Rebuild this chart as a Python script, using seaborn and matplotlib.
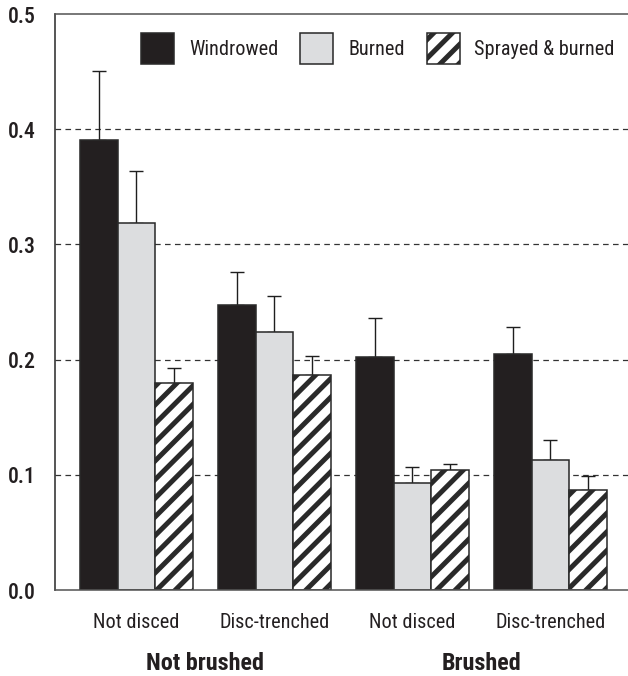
import matplotlib
matplotlib.use("Agg")
import matplotlib.pyplot as plt
from matplotlib.patches import Patch
import seaborn as sns
import pandas as pd
import numpy as np

# ---- data -------------------------------------------------------------
groups = ["Not brushed", "Not brushed", "Brushed", "Brushed"]
site_prep = ["Not disced", "Disc-trenched", "Not disced", "Disc-trenched"]
treatments = ["Windrowed", "Burned", "Sprayed & burned"]

windrowed = [0.391, 0.247, 0.202, 0.205]
burned = [0.319, 0.224, 0.093, 0.113]
sprayed_burned = [0.180, 0.187, 0.104, 0.087]

windrowed_se = [0.060, 0.029, 0.034, 0.023]
burned_se = [0.045, 0.031, 0.014, 0.017]
sprayed_burned_se = [0.013, 0.016, 0.005, 0.012]

group_labels = ["Not brushed", "Brushed"]

# ---- long-form table ----------------------------------------------------
cells = [f"{g} | {s}" for g, s in zip(groups, site_prep)]
rows = []
for t, vals, errs in zip(treatments,
                         [windrowed, burned, sprayed_burned],
                         [windrowed_se, burned_se, sprayed_burned_se]):
    for c, v, e in zip(cells, vals, errs):
        rows.append({"cell": c, "treatment": t, "value": v, "se": e})
df = pd.DataFrame(rows)

# ---- style --------------------------------------------------------------
DPI = 112
sns.set_style("white")
plt.rcParams["font.family"] = ["Roboto Condensed", "DejaVu Sans"]
plt.rcParams["hatch.linewidth"] = 3.2
plt.rcParams["hatch.color"] = "#1a1a1a"

TEXT = "#231f20"
fill_colors = {"Windrowed": "#231f20", "Burned": "#dcdddf", "Sprayed & burned": "#ffffff"}
hatches = {"Windrowed": "", "Burned": "", "Sprayed & burned": "//"}
edge_color = "#2a2a2a"

fig = plt.figure(figsize=(628 / DPI, 676 / DPI), dpi=DPI)
ax = fig.add_axes([0.0873, 0.1272, 0.919, 0.852])

sns.barplot(data=df, x="cell", y="value", hue="treatment", order=cells,
            hue_order=treatments, palette=fill_colors, errorbar=None,
            width=0.815, gap=0, edgecolor=edge_color, linewidth=1.0,
            saturation=1, legend=False, ax=ax, zorder=2)

# hatching for the sprayed & burned series and one-sided error bars
err_lists = [windrowed_se, burned_se, sprayed_burned_se]
val_lists = [windrowed, burned, sprayed_burned]
bar_containers = list(ax.containers)
for k, cont in enumerate(bar_containers):
    xs = []
    for bar in cont:
        bar.set_hatch(hatches[treatments[k]])
        xs.append(bar.get_x() + bar.get_width() / 2)
    errs = np.array(err_lists[k])
    ax.errorbar(xs, val_lists[k], yerr=[np.zeros_like(errs), errs],
                fmt="none", ecolor="#1e1e1e", elinewidth=0.9,
                capsize=4.2, capthick=0.9, zorder=1)

# ---- axes ---------------------------------------------------------------
yticks = [0.0, 0.1, 0.2, 0.3, 0.4, 0.5]
ax.set_xlim(-0.59, 3.59)
ax.set_ylim(0, 0.5)
ax.set_yticks(yticks)
ax.set_yticklabels([f"{v:.1f}" for v in yticks], fontsize=14,
                   color=TEXT, fontweight="medium")
ax.set_xticks(range(len(cells)))
ax.set_xticklabels(site_prep, fontsize=13, color=TEXT)
ax.tick_params(axis="both", length=0)
ax.tick_params(axis="y", pad=12)
ax.tick_params(axis="x", pad=14.5)
ax.set_xlabel("")
ax.set_ylabel("")

ax.set_axisbelow(True)
ax.yaxis.grid(True, linestyle=(0, (4.5, 3.5)), linewidth=0.8, color="#333333")
ax.xaxis.grid(False)
ax.spines["right"].set_visible(False)
for side in ["left", "top", "bottom"]:
    ax.spines[side].set_color("#555555")
    ax.spines[side].set_linewidth(1.0)
ax.spines["left"].set_color("#2a2a2a")

# hide gridlines that coincide with the frame
gl = ax.get_ygridlines()
gl[-1].set_visible(False)
gl[0].set_visible(False)

# group captions under the site-preparation labels
for i, lab in enumerate(group_labels):
    ax.text(2 * i + 0.5, -0.128, lab, transform=ax.get_xaxis_transform(),
            ha="center", va="center", fontsize=15.5, fontweight="bold",
            color=TEXT, clip_on=False)

# legend across the top
handles = [Patch(facecolor=fill_colors[t], edgecolor=edge_color, linewidth=1.0,
                 hatch=hatches[t], label=t) for t in treatments]
leg = ax.legend(handles=handles, ncol=3, frameon=False, fontsize=13,
                loc="upper right", bbox_to_anchor=(0.970, 0.967),
                handlelength=1.63, handleheight=2.0, handletextpad=0.72,
                columnspacing=1.1, borderaxespad=0, borderpad=0)
for txt in leg.get_texts():
    txt.set_color(TEXT)

fig.savefig("out.png", dpi=DPI)
